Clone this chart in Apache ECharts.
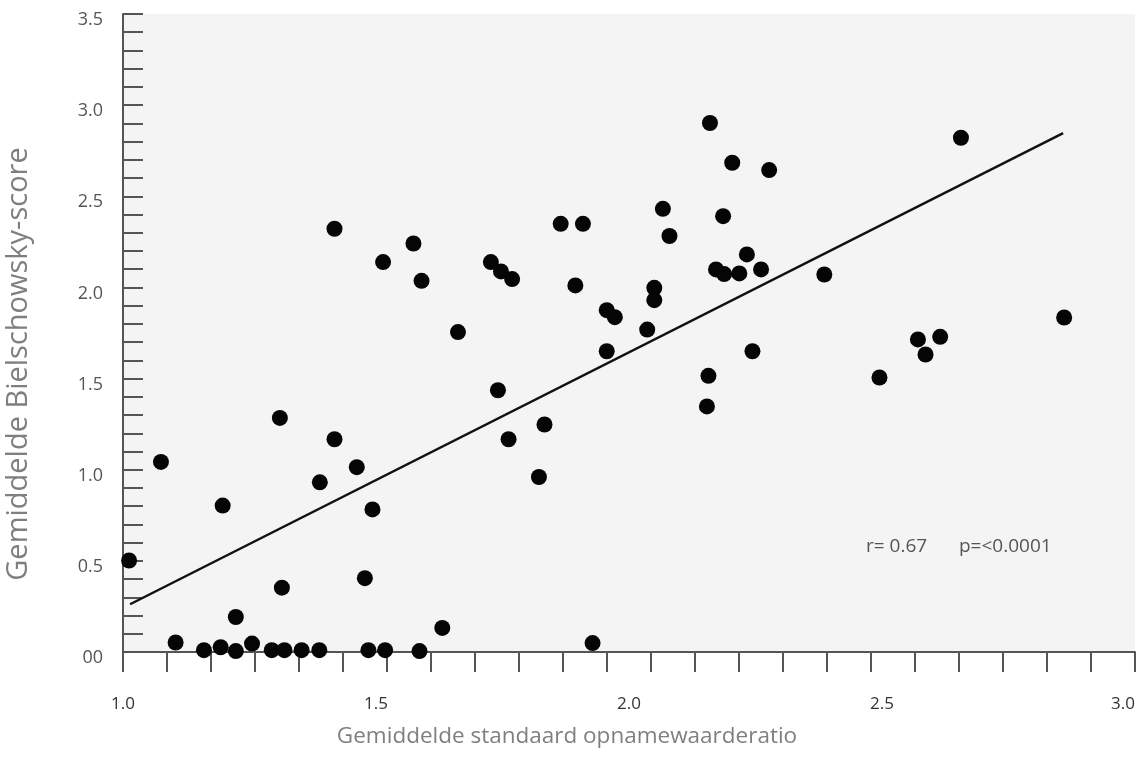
<!DOCTYPE html>
<html>
<head>
<meta charset="utf-8">
<script src="https://cdn.jsdelivr.net/npm/echarts@6/dist/echarts.min.js"></script>
<style>
html,body{margin:0;padding:0;background:#fff;overflow:hidden;}
#chart{width:1142px;height:767px;}
</style>
</head>
<body>
<div id="chart"></div>
<script>
// ---- data ----
const xValues = [1.012,1.075,1.104,1.160,1.193,1.197,1.223,1.223,1.255,1.294,1.310,1.314,1.319,1.353,1.388,1.389,1.418,1.418,1.462,1.478,1.485,1.493,1.514,1.518,1.574,1.586,1.590,1.631,1.662,1.727,1.741,1.747,1.762,1.769,1.822,1.833,1.865,1.894,1.909,1.928,1.956,1.956,1.972,2.036,2.050,2.050,2.067,2.080,2.157,2.154,2.160,2.172,2.186,2.188,2.204,2.218,2.233,2.244,2.261,2.277,2.386,2.495,2.571,2.586,2.615,2.656,2.860];
const yValues = [0.502,1.043,0.052,0.010,0.026,0.803,0.005,0.192,0.046,0.010,1.284,0.353,0.010,0.010,0.010,0.931,2.322,1.167,1.014,0.405,0.010,0.782,2.139,0.010,2.241,0.005,2.036,0.132,1.755,2.139,1.436,2.088,1.167,2.046,0.960,1.248,2.349,2.011,2.349,0.049,1.875,1.650,1.837,1.769,1.998,1.930,2.431,2.282,1.515,1.347,2.902,2.099,2.391,2.073,2.684,2.077,2.181,1.650,2.099,2.644,2.071,1.506,1.715,1.632,1.729,2.821,1.835];
const fitX = [1.014, 2.858];
const fitY = [0.262, 2.847];
const xTickLabels = ['1.0','1.5','2.0','2.5','3.0'];
const yTickLabels = ['00','0.5','1.0','1.5','2.0','2.5','3.0','3.5'];
const xTitle = 'Gemiddelde standaard opnamewaarderatio';
const yTitle = 'Gemiddelde Bielschowsky-score';
const statR = 'r= 0.67';
const statP = 'p=<0.0001';

const points = xValues.map((x, i) => [x, yValues[i]]);
const fitLine = fitX.map((x, i) => [x, fitY[i]]);

const FONT = '"Open Sans", "Noto Sans", sans-serif';
const AXIS_COLOR = '#555555';

const chart = echarts.init(document.getElementById('chart'), null, {renderer: 'canvas'});
chart.setOption({
  backgroundColor: '#ffffff',
  animation: false,
  grid: {
    left: 123, right: 7, top: 14, bottom: 115,
    outerBoundsMode: 'none', containLabel: false,
    show: true, backgroundColor: '#f4f4f4', borderWidth: 0
  },
  xAxis: [
    {
      type: 'value', min: 1, max: 3, interval: 0.5, position: 'bottom',
      axisLine: {show: false}, axisTick: {show: false}, splitLine: {show: false},
      axisLabel: {
        margin: 44, color: '#333', fontSize: 17, fontFamily: FONT,
        alignMaxLabel: 'right',
        formatter: v => xTickLabels[Math.round((v - 1) / 0.5)]
      },
      name: xTitle, nameLocation: 'middle', nameGap: 73,
      nameTextStyle: {color: '#7f7f7f', fontSize: 22.5, fontFamily: FONT, padding: [0, 124, 0, 0]}
    },
    {
      type: 'value', min: 0, max: 23, interval: 1, position: 'bottom',
      axisLine: {show: true, lineStyle: {color: AXIS_COLOR, width: 2}},
      axisTick: {show: true, length: 20, inside: false, lineStyle: {color: AXIS_COLOR, width: 2}},
      axisLabel: {show: false}, splitLine: {show: false}
    }
  ],
  yAxis: {
    type: 'value', min: 0, max: 3.5, interval: 0.5,
    axisLine: {show: true, lineStyle: {color: AXIS_COLOR, width: 2}},
    axisTick: {show: true, inside: true, length: 20, lineStyle: {color: AXIS_COLOR, width: 2}},
    minorTick: {show: true, splitNumber: 5, length: 20, lineStyle: {color: AXIS_COLOR, width: 2}},
    splitLine: {show: false},
    axisLabel: {
      margin: 20, color: '#555', fontSize: 18, fontFamily: FONT,
      verticalAlign: 'top', lineHeight: 12,
      formatter: v => yTickLabels[Math.round(v / 0.5)]
    },
    name: yTitle, nameLocation: 'middle', nameGap: 90,
    nameTextStyle: {color: '#7f7f7f', fontSize: 29, fontFamily: FONT, padding: [0, 62, 0, 0]}
  },
  graphic: [
    {type: 'text', left: 866, top: 537, style: {text: statR, fill: '#555', font: '19px ' + FONT}},
    {type: 'text', left: 959, top: 537, style: {text: statP, fill: '#555', font: '19px ' + FONT}}
  ],
  series: [
    {
      type: 'line', xAxisIndex: 0, data: fitLine, showSymbol: false, symbol: 'none',
      lineStyle: {color: '#111', width: 2.5}, z: 2, silent: true
    },
    {
      type: 'scatter', xAxisIndex: 0, data: points, symbolSize: 16,
      itemStyle: {color: '#050505', opacity: 1}, z: 3
    }
  ]
});
</script>
</body>
</html>
